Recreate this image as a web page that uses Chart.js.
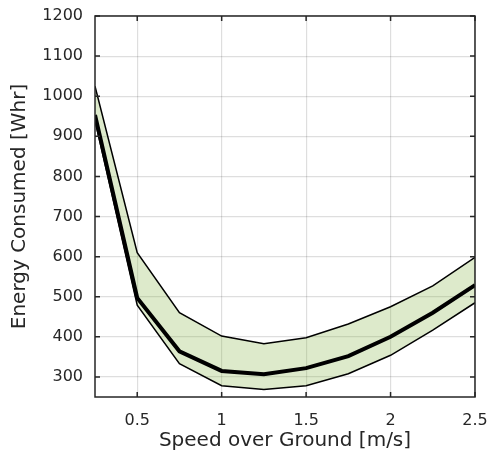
<!DOCTYPE html>
<html>
<head>
<meta charset="utf-8">
<script src="https://cdn.jsdelivr.net/npm/chart.js@4"></script>
<style>
  html, body { margin: 0; padding: 0; background: #fff; }
  #wrap { width: 490px; height: 455px; }
</style>
</head>
<body>
<div id="wrap"><canvas id="chart" width="490" height="455"></canvas></div>
<script>
// speed over ground [m/s]
const speeds = [0.25, 0.5, 0.75, 1.0, 1.25, 1.5, 1.75, 2.0, 2.25, 2.5];
// energy consumed [Whr]
const upperEnergy = [1025, 610, 460, 402, 383, 398, 432, 475, 527, 598];
const meanEnergy  = [953, 497, 364, 315, 307, 322, 352, 400, 460, 529];
const lowerEnergy = [940, 479, 333, 278, 269, 278, 308, 354, 417, 485];

const xTicks = [0.5, 1, 1.5, 2, 2.5];
const yTicks = [300, 400, 500, 600, 700, 800, 900, 1000, 1100, 1200];

const toPoints = (ys) => speeds.map((x, i) => ({ x, y: ys[i] }));

// box + inward ticks like the original axes
const boxPlugin = {
  id: 'box',
  afterDatasetsDraw(chart) {
    const { ctx, chartArea: a, scales } = chart;
    ctx.save();
    ctx.strokeStyle = '#262626';
    ctx.lineWidth = 1.5;
    ctx.beginPath();
    xTicks.forEach(v => {
      const px = scales.x.getPixelForValue(v);
      ctx.moveTo(px, a.bottom); ctx.lineTo(px, a.bottom - 5);
      ctx.moveTo(px, a.top); ctx.lineTo(px, a.top + 5);
    });
    yTicks.forEach(v => {
      const py = scales.y.getPixelForValue(v);
      ctx.moveTo(a.left, py); ctx.lineTo(a.left + 5, py);
      ctx.moveTo(a.right, py); ctx.lineTo(a.right - 5, py);
    });
    ctx.stroke();
    ctx.strokeRect(a.left, a.top, a.right - a.left, a.bottom - a.top);
    ctx.restore();
  }
};

const font = { family: 'DejaVu Sans', size: 16 };
const titleFont = { family: 'DejaVu Sans', size: 20 };

new Chart(document.getElementById('chart'), {
  type: 'line',
  data: {
    datasets: [
      {
        label: 'upper',
        data: toPoints(upperEnergy),
        borderColor: '#000',
        borderWidth: 1.5,
        backgroundColor: 'rgba(119,172,48,0.25)',
        fill: 1,
        pointRadius: 0,
        tension: 0,
        order: 2,
      },
      {
        label: 'lower',
        data: toPoints(lowerEnergy),
        borderColor: '#000',
        borderWidth: 1.5,
        fill: false,
        pointRadius: 0,
        tension: 0,
        order: 1,
      },
      {
        label: 'mean',
        data: toPoints(meanEnergy),
        borderColor: '#000',
        borderWidth: 4,
        fill: false,
        pointRadius: 0,
        tension: 0,
        order: 0,
      },
    ],
  },
  options: {
    responsive: false,
    animation: false,
    layout: { padding: { top: 16, right: 15, left: 0, bottom: 0 } },
    plugins: { legend: { display: false }, tooltip: { enabled: false } },
    scales: {
      x: {
        type: 'linear',
        min: 0.25,
        max: 2.5,
        afterBuildTicks: (s) => { s.ticks = xTicks.map(v => ({ value: v })); },
        afterFit: (s) => { s.height = 58; s.paddingLeft = 0; s.paddingRight = 0; },
        grid: { color: 'rgba(0,0,0,0.13)', lineWidth: 1.2, drawTicks: false },
        border: { display: false },
        ticks: { font, color: '#262626', padding: 14, maxRotation: 0, callback: (v) => String(v) },
        title: {
          display: true,
          text: 'Speed over Ground [m/s]',
          font: titleFont,
          color: '#262626',
          padding: { top: 0, bottom: 2 },
        },
      },
      y: {
        type: 'linear',
        min: 250,
        max: 1200,
        afterBuildTicks: (s) => { s.ticks = yTicks.map(v => ({ value: v })); },
        afterFit: (s) => { s.width = 95; s.paddingTop = 0; s.paddingBottom = 0; },
        grid: { color: 'rgba(0,0,0,0.13)', lineWidth: 1.2, drawTicks: false },
        border: { display: false },
        ticks: { font, color: '#262626', padding: 12, callback: (v) => String(v) },
        title: {
          display: true,
          text: 'Energy Consumed [Whr]',
          font: titleFont,
          color: '#262626',
          padding: { top: 8, bottom: 0 },
        },
      },
    },
  },
  plugins: [boxPlugin],
});
</script>
</body>
</html>
